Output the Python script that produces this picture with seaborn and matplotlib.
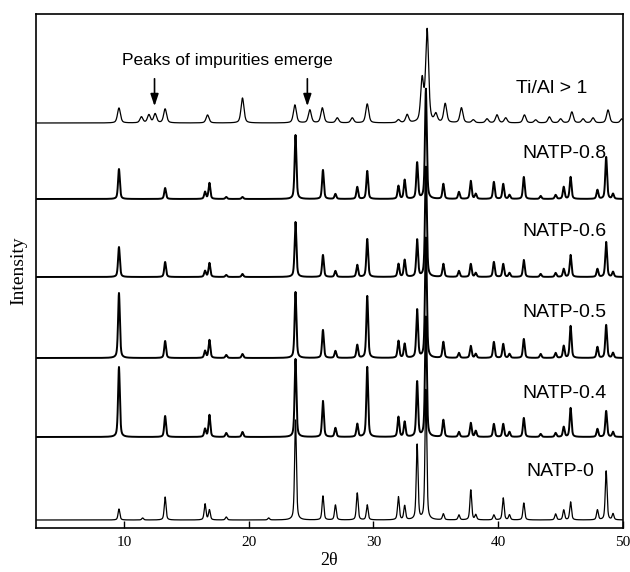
import numpy as np
import pandas as pd
import matplotlib
matplotlib.use("Agg")
import matplotlib.pyplot as plt
import seaborn as sns

# peak positions (2theta) shared by the NATP samples
natp_pos = [9.6, 11.5, 13.3, 16.5, 16.85, 18.2, 19.5, 21.6, 23.75, 25.95, 26.95,
            28.7, 29.5, 32.0, 32.5, 33.5, 34.2, 35.6, 36.85, 37.8, 38.2, 39.65,
            40.4, 40.9, 42.05, 43.4, 44.6, 45.25, 45.8, 47.95, 48.65, 49.2]

# peak heights (arbitrary units)
natp_0 = [11, 2, 23, 16, 10, 3, 0, 2, 100, 24, 15, 27, 15, 23, 14, 75, 130, 6,
          5, 30, 5, 5, 22, 5, 17, 0, 6, 10, 18, 10, 49, 6]
natp_04 = [70, 0, 21, 8, 22, 4, 5, 0, 78, 36, 9, 13, 70, 20, 15, 55, 120, 17,
           5, 14, 6, 13, 13, 5, 19, 3, 4, 10, 29, 8, 26, 5]
natp_05 = [65, 0, 17, 7, 18, 3, 4, 0, 66, 28, 7, 13, 62, 17, 14, 48, 120, 16,
           5, 12, 4, 16, 14, 4, 19, 4, 5, 12, 32, 11, 33, 5]
natp_06 = [30, 0, 15, 6, 14, 2, 3, 0, 55, 22, 6, 12, 38, 13, 17, 37, 110, 13,
           6, 13, 4, 15, 13, 4, 17, 3, 4, 8, 22, 8, 35, 5]
natp_08 = [30, 0, 11, 7, 16, 2, 2, 0, 64, 29, 5, 12, 28, 13, 19, 36, 110, 15,
           7, 18, 5, 17, 15, 4, 22, 3, 4, 12, 22, 9, 42, 5]

# Ti/Al > 1 sample has its own (broader) peaks
tial_pos = [9.6, 11.4, 12.0, 12.5, 13.3, 16.7, 19.5, 23.7, 24.9, 25.9, 27.1,
            28.3, 29.5, 32.0, 32.7, 33.9, 34.3, 35.0, 35.75, 37.05, 38.0, 39.1,
            39.9, 40.6, 42.1, 43.0, 44.1, 45.0, 45.9, 46.8, 47.6, 48.8, 49.9]
tial_h = [15, 6, 8, 9, 14, 8, 25, 18, 13, 15, 5, 5, 19, 3, 8, 42, 92, 8, 19,
          15, 3, 4, 8, 5, 8, 3, 6, 4, 11, 4, 5, 13, 4]

labels = ["NATP-0", "NATP-0.4", "NATP-0.5", "NATP-0.6", "NATP-0.8", "Ti/Al > 1"]
offsets = [8, 91, 170, 251, 329, 405]

two_theta = np.arange(3.0, 50.0, 0.01)


def pattern(pos, heights, width):
    y = np.zeros_like(two_theta)
    for c, h in zip(pos, heights):
        d = (two_theta - c) / width
        y += h * (0.5 / (1 + d ** 2) + 0.5 * np.exp(-np.log(2) * d ** 2))
    return y


curves = [pattern(natp_pos, natp_0, 0.085),
          pattern(natp_pos, natp_04, 0.085),
          pattern(natp_pos, natp_05, 0.085),
          pattern(natp_pos, natp_06, 0.085),
          pattern(natp_pos, natp_08, 0.085),
          pattern(tial_pos, tial_h, 0.14)]

df = pd.concat([pd.DataFrame({"two_theta": two_theta, "intensity": c + off, "sample": lab})
                for c, off, lab in zip(curves, offsets, labels)])

sns.set_style("ticks")
plt.rcParams["font.family"] = ["Liberation Sans", "DejaVu Sans"]
plt.rcParams["text.color"] = "black"
plt.rcParams["axes.labelcolor"] = "black"
plt.rcParams["xtick.color"] = "black"

fig = plt.figure(figsize=(6.3, 5.72), dpi=100)
ax = fig.add_axes([36 / 630, 44 / 572, 587 / 630, 514 / 572])

widths = {"NATP-0": 0.9, "NATP-0.4": 1.4, "NATP-0.5": 1.4, "NATP-0.6": 1.4,
          "NATP-0.8": 1.4, "Ti/Al > 1": 0.9}
for lab in labels:
    sns.lineplot(data=df[df["sample"] == lab], x="two_theta", y="intensity",
                 color="black", lw=widths[lab], estimator=None, sort=False, ax=ax)

ax.set_xlim(2.95, 50)
ax.set_ylim(0, 514)
ax.set_xticks([10, 20, 30, 40, 50])
ax.set_yticks([])
ax.tick_params(axis="x", direction="in", length=5, width=1, pad=6, colors="black")
for lab in ax.get_xticklabels():
    lab.set_family("Liberation Serif")
    lab.set_fontsize(11)
for s in ax.spines.values():
    s.set_linewidth(1.2)
    s.set_color("black")

ax.set_xlabel("2θ", family="Liberation Serif", fontsize=13, labelpad=2)
ax.set_ylabel("Intensity", family="Liberation Serif", fontsize=14, labelpad=6)

label_y = [57, 134, 215, 296, 374, 439]
label_x = [45.0, 45.3, 45.3, 45.3, 45.3, 44.3]
for lab, lx, ly in zip(labels, label_x, label_y):
    ax.text(lx, ly, lab, fontsize=14, ha="center", va="center", color="black")

ax.text(18.3, 467, "Peaks of impurities emerge", fontsize=12.5, ha="center",
        va="center", color="black")
for xa in [12.45, 24.7]:
    ax.annotate("", xy=(xa, 419), xytext=(xa, 452),
                arrowprops=dict(arrowstyle="-|>,head_width=0.2,head_length=0.6",
                                color="black", lw=1.2, mutation_scale=12))

fig.savefig("out.png", dpi=100)
